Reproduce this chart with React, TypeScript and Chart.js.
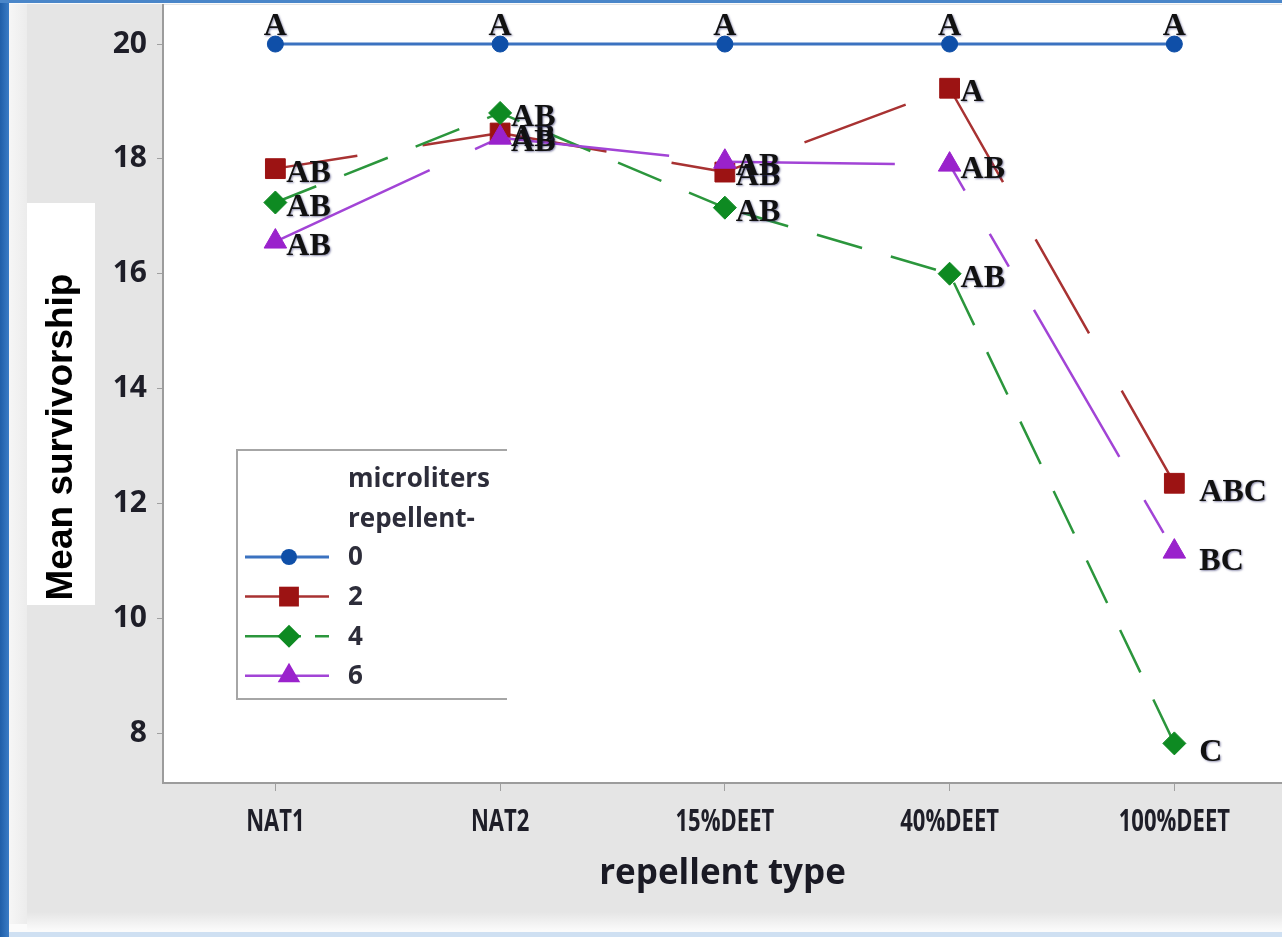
import React, { useEffect, useRef } from 'react';
import { Chart, registerables } from 'chart.js';

Chart.register(...registerables);

// ---------------- data ----------------
const categories = ['NAT1', 'NAT2', '15%DEET', '40%DEET', '100%DEET'];
const seriesNames = ['0', '2', '4', '6'];
const values0 = [20, 20, 20, 20, 20];
const values2 = [17.83, 18.45, 17.77, 19.23, 12.35];
const values4 = [17.24, 18.8, 17.15, 16.0, 7.82];
const values6 = [16.56, 18.37, 17.95, 17.9, 11.16];
const letters0 = ['A', 'A', 'A', 'A', 'A'];
const letters2 = ['AB', 'AB', 'AB', 'A', 'ABC'];
const letters4 = ['AB', 'AB', 'AB', 'AB', 'C'];
const letters6 = ['AB', 'AB', 'AB', 'AB', 'BC'];
const yTicks = [8, 10, 12, 14, 16, 18, 20];
const yMin = 7.13;
const yMax = 20.68;
const legendTitle = ['microliters', 'repellent-'];
const xTitle = 'repellent type';
const yTitle = 'Mean survivorship';

// ---------------- styles ----------------
const W = 1282;
const H = 937;
const SANS = '"Open Sans", "DejaVu Sans", sans-serif';
const SERIF = '"Liberation Serif", "Times New Roman", serif';

const lineColors = ['#3b72c0', '#a83232', '#2b963c', '#a244d6'];
const markerColors = ['#0f4fa8', '#9c1313', '#0e8a22', '#9a22cc'];
const markerStyles = ['circle', 'rect', 'rectRot', 'triangle'];
const markerRadii = [8, 14, 11.5, 13];
const lineWidths = [3, 2.5, 2.5, 2.5];
const dashes: number[][] = [[], [108, 66], [47, 30], [170, 50, 38, 50]];
const segDashOffsets: number[][] = [[0, 0, 0, 0], [25, 0, 89, 0], [3, 26, 58, 67], [0, 0, 0, 140]];
const drawOrder = [3, 2, 1, 0];

const allValues = [values0, values2, values4, values6];
const allLetters = [letters0, letters2, letters4, letters6];

function drawMarker(ctx: CanvasRenderingContext2D, style: string, x: number, y: number, r: number, color: string) {
  ctx.beginPath();
  if (style === 'circle') {
    ctx.arc(x, y, r, 0, Math.PI * 2);
  } else if (style === 'rect') {
    const s = r * Math.SQRT1_2;
    ctx.rect(x - s, y - s, 2 * s, 2 * s);
  } else if (style === 'rectRot') {
    ctx.moveTo(x - r, y);
    ctx.lineTo(x, y - r);
    ctx.lineTo(x + r, y);
    ctx.lineTo(x, y + r);
    ctx.closePath();
  } else {
    for (let k = 0; k < 3; k++) {
      const a = (k * 2 * Math.PI) / 3;
      const px = x + Math.sin(a) * r;
      const py = y - Math.cos(a) * r;
      if (k === 0) ctx.moveTo(px, py);
      else ctx.lineTo(px, py);
    }
    ctx.closePath();
  }
  ctx.fillStyle = color;
  ctx.fill();
}

const framePlugin = {
  id: 'frame',
  beforeDraw(chart: any) {
    const ctx: CanvasRenderingContext2D = chart.ctx;
    const { left, top, right, bottom } = chart.chartArea;
    ctx.save();
    ctx.fillStyle = '#fbfbfb';
    ctx.fillRect(0, 0, W, H);
    const g1 = ctx.createLinearGradient(9, 0, 27, 0);
    g1.addColorStop(0, '#f6f6f6');
    g1.addColorStop(1, '#ececec');
    ctx.fillStyle = g1;
    ctx.fillRect(9, 4, 18, 920);
    ctx.fillStyle = '#e5e5e5';
    ctx.fillRect(27, 4, W - 27, 910);
    const g2 = ctx.createLinearGradient(0, 912, 0, 930);
    g2.addColorStop(0, '#e5e5e5');
    g2.addColorStop(1, '#fafafa');
    ctx.fillStyle = g2;
    ctx.fillRect(27, 912, W - 27, 18);
    const g3 = ctx.createLinearGradient(0, 0, 9, 0);
    g3.addColorStop(0, '#1f5ea8');
    g3.addColorStop(1, '#3a7cc6');
    ctx.fillStyle = g3;
    ctx.fillRect(0, 0, 9, H);
    ctx.fillStyle = '#4a86c9';
    ctx.fillRect(0, 0, W, 3);
    ctx.fillStyle = '#cfe0f2';
    ctx.fillRect(9, 932, W - 9, 5);
    // plot area
    ctx.fillStyle = '#ffffff';
    ctx.fillRect(left, top, right - left, bottom - top);
    // y title box + title
    ctx.fillRect(27, 203, 68, 402);
    ctx.translate(72, 437);
    ctx.rotate(-Math.PI / 2);
    ctx.font = 'bold 37px "Liberation Sans", Arial, sans-serif';
    ctx.fillStyle = '#000000';
    ctx.textAlign = 'center';
    ctx.textBaseline = 'alphabetic';
    ctx.fillText(yTitle, 0, 0);
    ctx.restore();
  },
};

const overlayPlugin = {
  id: 'overlay',
  afterDatasetsDraw(chart: any) {
    const ctx: CanvasRenderingContext2D = chart.ctx;
    ctx.save();
    ctx.font = 'bold 32px ' + SERIF;
    ctx.fillStyle = '#111111';
    ctx.shadowColor = 'rgba(40,40,100,0.55)';
    ctx.shadowBlur = 2;
    ctx.shadowOffsetX = 1;
    ctx.shadowOffsetY = 1;
    ctx.textBaseline = 'alphabetic';
    allLetters.forEach((letters, i) => {
      const meta = chart.getDatasetMeta(i);
      letters.forEach((t, j) => {
        const pt = meta.data[j];
        if (!pt) return;
        if (i === 0) {
          ctx.textAlign = 'center';
          ctx.fillText(t, pt.x, pt.y - 9);
        } else {
          const last = j === letters.length - 1;
          ctx.textAlign = 'left';
          ctx.fillText(t, pt.x + (last ? 25 : 11), pt.y + (last ? 18 : 13));
        }
      });
    });
    ctx.restore();

    // legend
    ctx.save();
    const lx = 237;
    const ly = 450;
    const lw = 270;
    const lh = 249;
    ctx.fillStyle = '#ffffff';
    ctx.fillRect(lx, ly, lw, lh);
    ctx.strokeStyle = '#a6a6a6';
    ctx.lineWidth = 2;
    ctx.beginPath();
    ctx.moveTo(lx + lw, ly);
    ctx.lineTo(lx, ly);
    ctx.lineTo(lx, ly + lh);
    ctx.lineTo(lx + lw, ly + lh);
    ctx.stroke();
    ctx.font = 'bold 26px ' + SANS;
    ctx.fillStyle = '#2d2d3a';
    ctx.textAlign = 'left';
    ctx.textBaseline = 'middle';
    ctx.fillText(legendTitle[0], 348, 480);
    ctx.fillText(legendTitle[1], 348, 520);
    seriesNames.forEach((name, i) => {
      const y = 557 + i * 39.6;
      ctx.strokeStyle = lineColors[i];
      ctx.lineWidth = lineWidths[i];
      ctx.setLineDash(i === 2 ? [56, 14] : []);
      ctx.beginPath();
      ctx.moveTo(245, y);
      ctx.lineTo(329, y);
      ctx.stroke();
      ctx.setLineDash([]);
      drawMarker(ctx, markerStyles[i], 289, y, markerRadii[i], markerColors[i]);
      ctx.fillStyle = '#2d2d3a';
      ctx.fillText(name, 348, y + 1);
    });
    ctx.restore();
  },
  afterDraw(chart: any) {
    // condensed category labels of the x axis, placed by the x scale
    const ctx: CanvasRenderingContext2D = chart.ctx;
    const xs = chart.scales.x;
    ctx.save();
    ctx.font = 'bold 31px ' + SANS;
    ctx.fillStyle = '#1e1e28';
    ctx.textAlign = 'center';
    ctx.textBaseline = 'middle';
    xs.ticks.forEach((t: any) => {
      const label = categories[t.value];
      if (label === undefined) return;
      ctx.save();
      ctx.translate(xs.getPixelForValue(t.value), xs.top + 39);
      ctx.scale(0.71, 1);
      ctx.fillText(label, 0, 0);
      ctx.restore();
    });
    ctx.restore();
  },
};

export default function App() {
  const canvasRef = useRef<HTMLCanvasElement | null>(null);

  useEffect(() => {
    const canvas = canvasRef.current;
    if (!canvas) return;
    const datasets = allValues.map((vals, i) => ({
      label: seriesNames[i],
      data: vals.map((y, x) => ({ x, y })),
      borderColor: lineColors[i],
      borderWidth: lineWidths[i],
      borderDash: dashes[i],
      pointStyle: markerStyles[i],
      pointRadius: markerRadii[i],
      pointBackgroundColor: markerColors[i],
      pointBorderColor: markerColors[i],
      pointBorderWidth: 1,
      fill: false,
      tension: 0,
      clip: false,
      order: drawOrder[i],
      segment: {
        borderDashOffset: (c: any) => segDashOffsets[i][c.p0DataIndex] + c.p0DataIndex * 0.01,
      },
    }));

    const chart = new Chart(canvas, {
      type: 'line',
      data: { datasets },
      options: {
        responsive: false,
        animation: false,
        layout: { autoPadding: false, padding: { top: 5, left: 0, right: 0, bottom: 0 } },
        plugins: {
          legend: { display: false },
          tooltip: { enabled: false },
          title: { display: false },
        },
        scales: {
          x: {
            type: 'linear',
            min: -0.5,
            max: 4.479,
            afterBuildTicks: (s: any) => {
              s.ticks = categories.map((_, i) => ({ value: i }));
            },
            afterFit: (s: any) => {
              s.height = 154;
              s.paddingLeft = 0;
              s.paddingRight = 0;
              s.paddingTop = 0;
              s.paddingBottom = 0;
            },
            ticks: {
              display: false,
              callback: (v: any) => categories[v] ?? '',
            },
            grid: { display: true, drawOnChartArea: false, drawTicks: true, tickLength: 8, color: '#a0a0a0', lineWidth: 1 },
            border: { display: true, color: '#9c9c9c', width: 2 },
            title: {
              display: true,
              text: xTitle,
              font: { family: SANS, weight: 'bold', size: 35 },
              color: '#1a1a24',
              padding: { top: 0, bottom: 42 },
            },
          },
          y: {
            type: 'linear',
            min: yMin,
            max: yMax,
            afterBuildTicks: (s: any) => {
              s.ticks = yTicks.map((v) => ({ value: v }));
            },
            afterFit: (s: any) => {
              s.width = 163;
              s.paddingLeft = 0;
              s.paddingRight = 0;
              s.paddingTop = 0;
              s.paddingBottom = 0;
            },
            ticks: {
              font: { family: SANS, weight: 'bold', size: 30 },
              color: '#1e1e28',
              padding: 10,
            },
            grid: { display: true, drawOnChartArea: false, drawTicks: true, tickLength: 6, color: '#a0a0a0', lineWidth: 1 },
            border: { display: true, color: '#9c9c9c', width: 2 },
          },
        },
      } as any,
      plugins: [framePlugin, overlayPlugin],
    });

    let alive = true;
    const fonts = (document as any).fonts;
    if (fonts && fonts.load) {
      Promise.all([
        fonts.load('bold 30px "Open Sans"'),
        fonts.load('bold 32px "Liberation Serif"'),
        fonts.load('bold 36px "Liberation Sans"'),
      ])
        .catch(() => null)
        .then(() => {
          if (alive) chart.update();
        });
    }

    return () => {
      alive = false;
      chart.destroy();
    };
  }, []);

  return (
    <div style={{ position: 'absolute', left: 0, top: 0, width: W, height: H, overflow: 'hidden' }}>
      <canvas ref={canvasRef} width={W} height={H} style={{ display: 'block', width: W, height: H }} />
    </div>
  );
}
